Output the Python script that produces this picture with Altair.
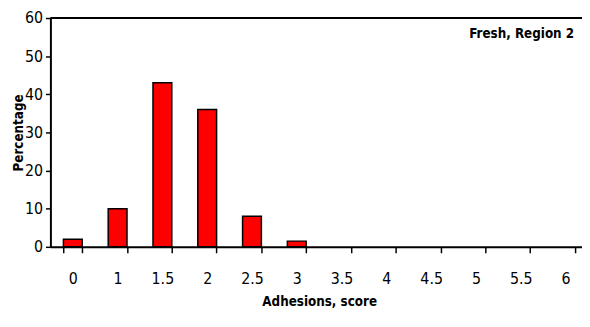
import altair as alt
import pandas as pd

scores = ["0", "1", "1.5", "2", "2.5", "3", "3.5", "4", "4.5", "5", "5.5", "6"]
percentages = [2, 10, 43, 36, 8, 1.5, 0, 0, 0, 0, 0, 0]
y_ticks = [0, 10, 20, 30, 40, 50, 60]
panel_label = "Fresh, Region 2"

df = pd.DataFrame({"score": scores, "pct": percentages})

FONT = "DejaVu Sans Condensed"
BOLD_FONT = "DejaVu Sans Condensed"

yscale = alt.Scale(domain=[0, 60], nice=False)

x = alt.X(
    "score:N",
    sort=scores,
    scale=alt.Scale(domain=scores, range=[0, 545], paddingInner=0.58, paddingOuter=0.29),
    axis=alt.Axis(
        title="Adhesions, score",
        labelAngle=0,
        tickBand="extent",
        labelPadding=18,
        titlePadding=8,
        domainColor="black",
        domainWidth=2,
        tickColor="black",
        tickWidth=1.5,
        tickSize=6,
        labelFont=FONT,
        labelFontSize=16,
        labelColor="black",
        titleFont=BOLD_FONT,
        titleFontSize=13.5,
        titleFontWeight="bold",
        titleColor="black",
    ),
)

bars = alt.Chart(df).transform_filter(alt.datum.pct > 0).mark_bar(
    color="#ff0000", stroke="black", strokeWidth=1.5
).encode(
    x=x,
    y=alt.Y(
        "pct:Q",
        scale=yscale,
        axis=alt.Axis(
            title="Percentage",
            values=y_ticks,
            labelOverlap=False,
            grid=False,
            domainColor="black",
            domainWidth=2,
            tickColor="black",
            tickWidth=1.5,
            tickSize=5,
            labelFont=FONT,
            labelFontSize=16,
            labelColor="black",
            labelPadding=3,
            titleFont=BOLD_FONT,
            titleFontSize=13.5,
            titleFontWeight="bold",
            titleColor="black",
            titlePadding=-1,
        ),
    ),
)

# frame line along the top of the plot area
top_rule = alt.Chart(pd.DataFrame({"t": [0]})).mark_rule(
    color="black", strokeWidth=2
).encode(y=alt.value(0), x=alt.value(0), x2=alt.value(545))

label = alt.Chart(pd.DataFrame({"t": [panel_label]})).mark_text(
    align="right", baseline="middle", font=BOLD_FONT, fontSize=13.5,
    fontWeight="bold", color="black"
).encode(text="t:N", x=alt.value(531), y=alt.value(16))

chart = alt.layer(bars, top_rule, label).properties(
    width=539,
    height=232,
    padding={"left": 43, "top": 8, "right": 0, "bottom": 71},
    autosize=alt.AutoSizeParams(type="none"),
).configure_view(stroke=None).configure(background="white")

chart.save("out.html", embed_options={"renderer": "svg", "actions": False})
